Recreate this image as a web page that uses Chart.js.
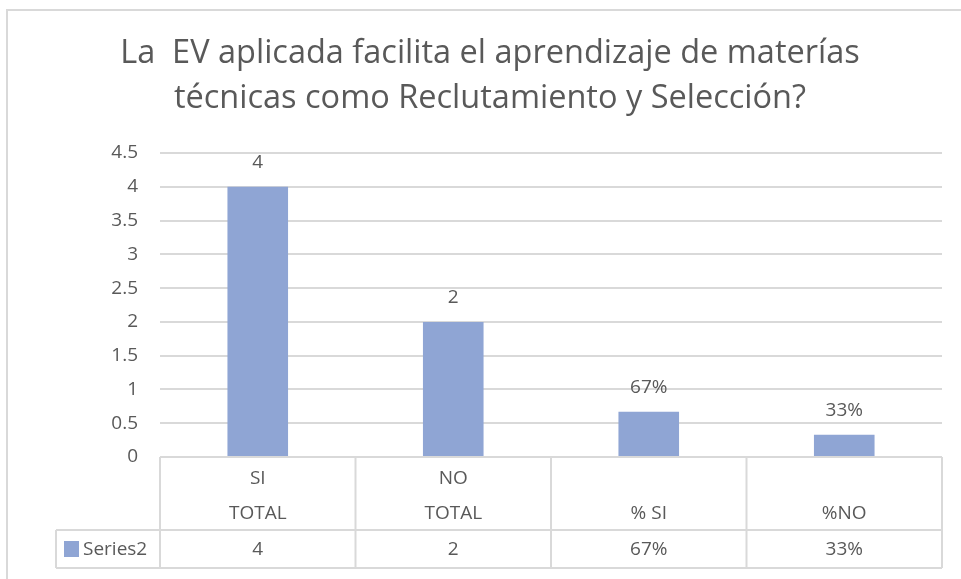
<!DOCTYPE html>
<html>
<head>
<meta charset="utf-8">
<script src="https://cdn.jsdelivr.net/npm/chart.js@4/dist/chart.umd.min.js"></script>
<style>
  html, body { margin: 0; padding: 0; background: #fff; }
  #wrap { width: 961px; height: 579px; }
</style>
</head>
<body>
<div id="wrap"><canvas id="graph" width="961" height="579"></canvas></div>
<script>
//Chart data
const titleLines = [
  "La  EV aplicada facilita el aprendizaje de materías",
  "técnicas como Reclutamiento y Selección?",
];
const topLabels = ["SI", "NO", "", ""];
const bottomLabels = ["TOTAL", "TOTAL", "% SI", "%NO"];
const seriesName = "Series2";
const values = [4, 2, 0.67, 0.33];
const isPercent = [false, false, true, true];
const yTicks = [0, 0.5, 1, 1.5, 2, 2.5, 3, 3.5, 4, 4.5];

const barColor = "#8FA5D4";
const textColor = "#595959";
const lineColor = "#D9D9D9";
const fontFamily = "'Open Sans', 'Liberation Sans', sans-serif";

//Format a value the way the sheet shows it
const formatValue = i => {
  if (isPercent[i]) return Math.round(values[i] * 100) + "%";
  return String(values[i]);
};

//White page with the chart frame
const framePlugin = {
  id: "frame",
  beforeDraw: chart => {
    const ctx = chart.ctx;
    ctx.save();
    ctx.fillStyle = "#ffffff";
    ctx.fillRect(0, 0, chart.width, chart.height);
    ctx.strokeStyle = lineColor;
    ctx.lineWidth = 2;
    ctx.beginPath();
    ctx.moveTo(7, chart.height);
    ctx.lineTo(7, 10);
    ctx.lineTo(chart.width, 10);
    ctx.stroke();
    ctx.restore();
  },
};

//Labels above bars
const labelPlugin = {
  id: "barLabels",
  afterDatasetsDraw: chart => {
    const ctx = chart.ctx;
    const meta = chart.getDatasetMeta(0);
    ctx.save();
    ctx.fillStyle = textColor;
    ctx.font = "19px " + fontFamily;
    ctx.textAlign = "center";
    ctx.textBaseline = "middle";
    meta.data.forEach((bar, i) => {
      ctx.fillText(formatValue(i), bar.x, bar.y - 24);
    });
    ctx.restore();
  },
};

//Data table under the plot
const tablePlugin = {
  id: "dataTable",
  afterDraw: chart => {
    const ctx = chart.ctx;
    const x = chart.scales.x;
    const n = topLabels.length;
    const colW = (x.right - x.left) / n;
    const top = x.top;
    const mid = x.bottom;
    const bottom = mid + 38;
    const legendLeft = 56;

    ctx.save();
    ctx.strokeStyle = lineColor;
    ctx.lineWidth = 2;
    ctx.beginPath();
    //horizontal lines
    ctx.moveTo(x.left, top);
    ctx.lineTo(x.right, top);
    ctx.moveTo(legendLeft, mid);
    ctx.lineTo(x.right, mid);
    ctx.moveTo(legendLeft, bottom);
    ctx.lineTo(x.right, bottom);
    //vertical lines
    for (let i = 0; i <= n; i++) {
      const px = x.left + i * colW;
      ctx.moveTo(px, top);
      ctx.lineTo(px, bottom);
    }
    ctx.moveTo(legendLeft, mid);
    ctx.lineTo(legendLeft, bottom);
    ctx.stroke();

    //series row
    const rowY = (mid + bottom) / 2;
    ctx.fillStyle = textColor;
    ctx.font = "19px " + fontFamily;
    ctx.textAlign = "center";
    ctx.textBaseline = "middle";
    values.forEach((v, i) => {
      ctx.fillText(formatValue(i), x.getPixelForValue(i), rowY + 1);
    });

    //legend key
    ctx.fillStyle = barColor;
    ctx.fillRect(legendLeft + 8, rowY - 8, 15, 16);
    ctx.fillStyle = textColor;
    ctx.textAlign = "left";
    ctx.fillText(seriesName, legendLeft + 27, rowY + 1);
    ctx.restore();
  },
};

new Chart(document.getElementById("graph"), {
  type: "bar",
  data: {
    labels: topLabels.map((t, i) => [t, bottomLabels[i]]),
    datasets: [
      {
        label: seriesName,
        data: values,
        backgroundColor: barColor,
        borderWidth: 0,
        barPercentage: 1,
        categoryPercentage: 0.31,
      },
    ],
  },
  options: {
    responsive: false,
    animation: false,
    layout: { padding: { left: 38, right: 19, top: 24, bottom: 49 } },
    plugins: {
      legend: { display: false },
      tooltip: { enabled: false },
      title: {
        display: true,
        text: titleLines,
        color: textColor,
        font: { family: fontFamily, size: 32.5, weight: "normal", lineHeight: "45px" },
        padding: { top: 7, bottom: 32 },
      },
    },
    scales: {
      x: {
        grid: { display: false },
        border: { display: false },
        ticks: {
          color: textColor,
          font: { family: fontFamily, size: 19, lineHeight: "35px" },
          padding: -4,
          maxRotation: 0,
          autoSkip: false,
        },
        afterFit: scale => {
          scale.height = 73;
        },
      },
      y: {
        min: 0,
        max: 4.5,
        afterBuildTicks: scale => {
          scale.ticks = yTicks.map(v => ({ value: v }));
        },
        grid: {
          color: ctx => (ctx.tick && ctx.tick.value === 0 ? "rgba(0,0,0,0)" : lineColor),
          lineWidth: 2,
          drawTicks: false,
        },
        border: { display: false },
        ticks: {
          color: textColor,
          font: { family: fontFamily, size: 19 },
          padding: 22,
          callback: v => String(v),
        },
        afterFit: scale => {
          scale.width = 122;
        },
      },
    },
  },
  plugins: [framePlugin, labelPlugin, tablePlugin],
});
</script>
</body>
</html>
